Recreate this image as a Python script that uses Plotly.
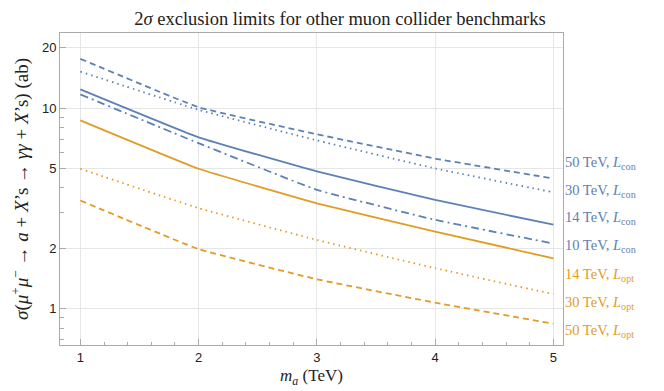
import plotly.graph_objects as go

m_a = [1, 2, 3, 4, 5]
con_50 = [17.6, 10.1, 7.4, 5.6, 4.45]
con_30 = [15.2, 9.8, 6.9, 5.0, 3.8]
con_14 = [12.4, 7.15, 4.83, 3.48, 2.62]
con_10 = [11.7, 6.68, 3.91, 2.77, 2.11]
opt_14 = [8.68, 4.98, 3.35, 2.42, 1.78]
opt_30 = [4.98, 3.17, 2.20, 1.59, 1.18]
opt_50 = [3.46, 1.98, 1.40, 1.07, 0.84]

BLUE = "#5E81B5"
ORANGE = "#E19C24"

series = [
    ("50 TeV, <i>L</i><sub>con</sub>", con_50, BLUE, "6px,4px", 0.7254),
    ("30 TeV, <i>L</i><sub>con</sub>", con_30, BLUE, "1.5px,4px", 0.5856),
    ("14 TeV, <i>L</i><sub>con</sub>", con_14, BLUE, "solid", 0.4508),
    ("10 TeV, <i>L</i><sub>con</sub>", con_10, BLUE, "8px,4px,2px,4px", 0.311),
    ("14 TeV, <i>L</i><sub>opt</sub>", opt_14, ORANGE, "solid", 0.1677),
    ("30 TeV, <i>L</i><sub>opt</sub>", opt_30, ORANGE, "1.5px,4px", 0.0265),
    ("50 TeV, <i>L</i><sub>opt</sub>", opt_50, ORANGE, "6px,4px", -0.1133),
]

fig = go.Figure()
annotations = []
for name, vals, col, dash, ly in series:
    fig.add_trace(go.Scatter(x=m_a, y=vals, mode="lines", name=name,
                             line=dict(color=col, width=1.8, dash=dash, shape="spline", smoothing=0.3),
                             showlegend=False))
    annotations.append(dict(x=1.0, xref="paper", xshift=0, xanchor="left",
                            y=ly, yref="y", text=name, showarrow=False,
                            font=dict(family="Liberation Serif", size=14.5, color=col)))

fig.update_layout(
    width=664, height=391,
    margin=dict(l=52, r=109, t=25, b=54),
    plot_bgcolor="white", paper_bgcolor="white",
    title=dict(text="2<i>σ</i> exclusion limits for other muon collider benchmarks",
               x=0.5, xanchor="center", y=0.99, yanchor="top",
               font=dict(family="Liberation Serif", size=18.5, color="#222")),
    annotations=annotations,
)

minor_x = [round(0.8 + 0.2 * i, 1) for i in range(0, 22)]
fig.update_xaxes(range=[0.828, 5.081], tickvals=m_a, ticktext=[str(v) for v in m_a],
                 showgrid=True, gridcolor="#e6e6e6", gridwidth=1,
                 showline=True, linecolor="#aaaaaa", linewidth=1, mirror=True,
                 ticks="inside", ticklen=6, tickcolor="#aaaaaa",
                 minor=dict(tickvals=minor_x, ticks="inside", ticklen=3.5, tickcolor="#aaaaaa", showgrid=False),
                 zeroline=False,
                 tickfont=dict(family="Liberation Sans", size=13, color="#222"),
                 title=dict(text="<i>m<sub>a</sub></i> (TeV)", standoff=5,
                            font=dict(family="Liberation Serif", size=17, color="#222")))

ytv = [1, 2, 5, 10, 20]
minor_y = [0.7, 0.8, 0.9, 3, 4, 6, 7, 8, 9, 30]
fig.update_yaxes(type="log", range=[-0.1817, 1.3744], tickvals=ytv, ticktext=[str(v) for v in ytv],
                 showgrid=True, gridcolor="#e6e6e6", gridwidth=1,
                 showline=True, linecolor="#aaaaaa", linewidth=1, mirror=True,
                 ticks="inside", ticklen=6, tickcolor="#aaaaaa",
                 minor=dict(tickvals=minor_y, ticks="inside", ticklen=3.5, tickcolor="#aaaaaa", showgrid=False),
                 zeroline=False,
                 tickfont=dict(family="Liberation Sans", size=13, color="#222"),
                 title=dict(text="<i>σ</i>(<i>μ</i><sup>+</sup><i>μ</i><sup>−</sup> → <i>a</i> + <i>X</i>’s → <i>γγ</i> + <i>X</i>’s) (ab)",
                            standoff=9,
                            font=dict(family="Liberation Serif", size=19, color="#222")))

fig.write_html("out.html")
